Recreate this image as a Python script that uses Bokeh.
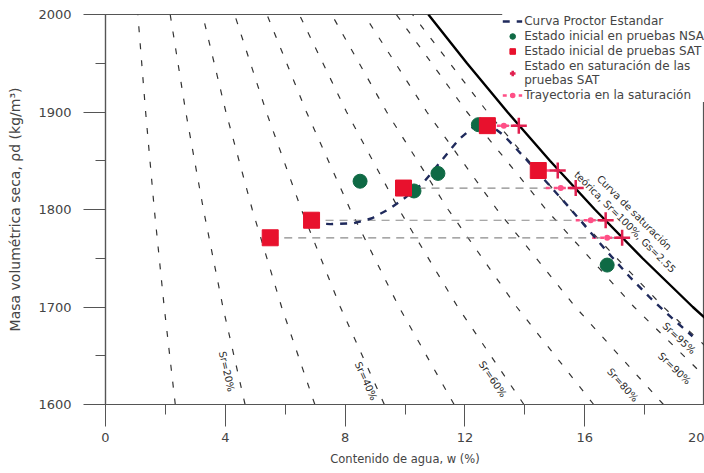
from bokeh.plotting import figure
from bokeh.models import Range1d, Legend, LegendItem, FixedTicker, Title
from bokeh.core.properties import value
from bokeh.embed import file_html
from bokeh.resources import INLINE

# ---------------- data ----------------
rho_levels = [1600, 1700, 1800, 1900, 2000]
w_sr10 = [2.33, 1.96, 1.63, 1.34, 1.08]
w_sr20 = [4.66, 3.92, 3.27, 2.68, 2.16]
w_sr30 = [6.99, 5.88, 4.90, 4.02, 3.24]
w_sr40 = [9.31, 7.84, 6.54, 5.37, 4.31]
w_sr50 = [11.64, 9.80, 8.17, 6.71, 5.39]
w_sr60 = [13.97, 11.76, 9.80, 8.05, 6.47]
w_sr70 = [16.30, 13.73, 11.44, 9.39, 7.55]
w_sr80 = [18.63, 15.69, 13.07, 10.73, 8.63]
w_sr90 = [20.96, 17.65, 14.71, 12.07, 9.71]
w_sr95 = [22.12, 18.63, 15.52, 12.75, 10.25]

sat_rho = [1650, 1700, 1750, 1800, 1850, 1900, 1950, 2000]
sat_w = [21.39, 19.61, 17.93, 16.34, 14.84, 13.42, 12.07, 10.78]

proctor_w = [6.9, 7.5, 8.3, 8.9, 9.5, 10.0, 10.6, 11.4, 11.8, 12.3, 12.75,
             13.3, 14.0, 14.7, 15.4, 16.1, 16.8, 17.5, 18.2, 18.9, 19.6]
proctor_rho = [1786, 1785, 1786, 1791, 1801, 1812, 1827, 1857, 1872, 1885, 1889,
               1876, 1853, 1829, 1805, 1780, 1755, 1731, 1709, 1689, 1670]

nsa_w = [8.5, 10.3, 11.1, 12.45, 16.75]
nsa_rho = [1829, 1819, 1837, 1887, 1743]

sat_init_w = [5.5, 6.88, 9.95, 12.75, 14.45]
sat_init_rho = [1771, 1789, 1822, 1886, 1840]
sat_end_w = [17.25, 16.7, 15.7, 13.8, 15.1]

sr_label_text = ["Sr=20%", "Sr=40%", "Sr=60%", "Sr=80%", "Sr=95%", "Sr=90%"]
sr_label_w = [4.05, 8.7, 12.93, 17.27, 19.15, 19.0]
sr_label_rho = [1634, 1624, 1626, 1620, 1668, 1637]
sr_label_angle = [-77, -66, -56, -48, -43, -44]

x_ticks = [0, 4, 8, 12, 16, 20]
y_ticks = [1600, 1700, 1800, 1900, 2000]

FONT = "DejaVu Sans"
GRAY = "#444444"

p = figure(width=704, height=473, x_range=Range1d(0, 20), y_range=Range1d(1600, 2000),
           output_backend="svg", toolbar_location=None,
           min_border_left=105, min_border_right=0, min_border_top=14, min_border_bottom=69)
p.grid.visible = False
p.outline_line_color = "#555555"
p.outline_line_width = 1.2
p.background_fill_color = "white"

# saturation-degree dashed lines
sr_lines = [w_sr10, w_sr20, w_sr30, w_sr40, w_sr50, w_sr60, w_sr70, w_sr80, w_sr90, w_sr95]
p.multi_line(xs=sr_lines, ys=[rho_levels] * len(sr_lines), line_color="#333333",
             line_width=1.2, line_dash="6 11")

# theoretical saturation curve
p.line(sat_w, sat_rho, line_color="black", line_width=2.4)

# trajectories
traj_xs = [[a, b] for a, b in zip(sat_init_w, sat_end_w)]
traj_ys = [[r, r] for r in sat_init_rho]
p.multi_line(xs=traj_xs, ys=traj_ys, line_color="#8a8a8a", line_width=1.2, line_dash="8 6")
pink_xs = [[max(a, b - 1.0), b] for a, b in zip(sat_init_w, sat_end_w)]
r_pink = p.multi_line(xs=pink_xs, ys=traj_ys, line_color="#ff4f86", line_width=2.5,
                      line_dash="4 4")
r_pinkdot = p.scatter([b - 0.5 for b in sat_end_w], sat_init_rho, marker="circle", size=6,
                      fill_color="#ff4f86", line_color=None)

# Proctor curve
r_proc = p.line(proctor_w, proctor_rho, line_color="#1f2a5c", line_width=2.4, line_dash="7 7")

# points
r_nsa = p.scatter(nsa_w, nsa_rho, marker="circle", size=14, fill_color="#0f6a45",
                  line_color="#0f6a45")
r_sat = p.scatter(sat_init_w, sat_init_rho, marker="square", size=16, fill_color="#e8112d",
                  line_color="#e8112d")
r_plus = p.scatter(sat_end_w, sat_init_rho, marker="cross", size=16, line_color="#e0204f",
                   line_width=2.5)

# labels along lines
p.text(x=sr_label_w, y=sr_label_rho, text=sr_label_text, angle=sr_label_angle,
       angle_units="deg", text_font=value(FONT), text_font_size="10px",
       text_color="#2a2a2a", text_align="center", text_baseline="middle")
p.text(x=[17.5], y=[1792], text=["Curva de saturación\nteórica, Sr=100%, Gs=2.55"],
       angle=[-45], angle_units="deg", text_font=value(FONT), text_font_size="10px",
       text_color="#2a2a2a", text_align="center", text_baseline="middle")

# axes
for ax in (p.xaxis[0], p.yaxis[0]):
    ax.axis_line_color = "#555555"
    ax.axis_line_width = 1.2
    ax.major_tick_line_color = "#555555"
    ax.minor_tick_line_color = "#555555"
    ax.major_tick_in = 0
    ax.major_tick_out = 22
    ax.minor_tick_in = 0
    ax.minor_tick_out = 10
    ax.major_label_text_font = FONT
    ax.major_label_text_font_size = "13px"
    ax.major_label_text_color = GRAY

p.xaxis.ticker = FixedTicker(ticks=x_ticks, minor_ticks=[2, 6, 10, 14, 18])
p.yaxis.ticker = FixedTicker(ticks=y_ticks, minor_ticks=[1650, 1750, 1850, 1950])
p.xaxis.major_label_standoff = 6
p.yaxis.major_label_standoff = 12
p.yaxis.axis_label = "Masa volumétrica seca, ρd (kg/m³)"
p.yaxis.axis_label_text_font = FONT
p.yaxis.axis_label_text_font_size = "14px"
p.yaxis.axis_label_text_font_style = "normal"
p.yaxis.axis_label_text_color = GRAY
p.yaxis.axis_label_standoff = 12

xlab = Title(text="Contenido de agua, w (%)", align="center", offset=-36,
             text_font=FONT, text_font_size="11.5px", text_font_style="normal",
             text_color=GRAY, standoff=11)
p.add_layout(xlab, "below")

legend = Legend(items=[
    LegendItem(label="Curva Proctor Estandar", renderers=[r_proc]),
    LegendItem(label="Estado inicial en pruebas NSA", renderers=[r_nsa]),
    LegendItem(label="Estado inicial de pruebas SAT", renderers=[r_sat]),
    LegendItem(label="Estado en saturación de las\npruebas SAT", renderers=[r_plus]),
    LegendItem(label="Trayectoria en la saturación", renderers=[r_pink, r_pinkdot]),
], location="top_right")
legend.margin = 0
legend.padding = 3
legend.spacing = 1
legend.glyph_width = 20
legend.glyph_height = 14
legend.label_height = 14
legend.label_standoff = 2
legend.label_text_font = FONT
legend.label_text_font_size = "12px"
legend.label_text_color = GRAY
legend.background_fill_color = "white"
legend.background_fill_alpha = 1.0
legend.border_line_color = None
p.add_layout(legend)

open("out.html", "w").write(file_html(p, INLINE))
